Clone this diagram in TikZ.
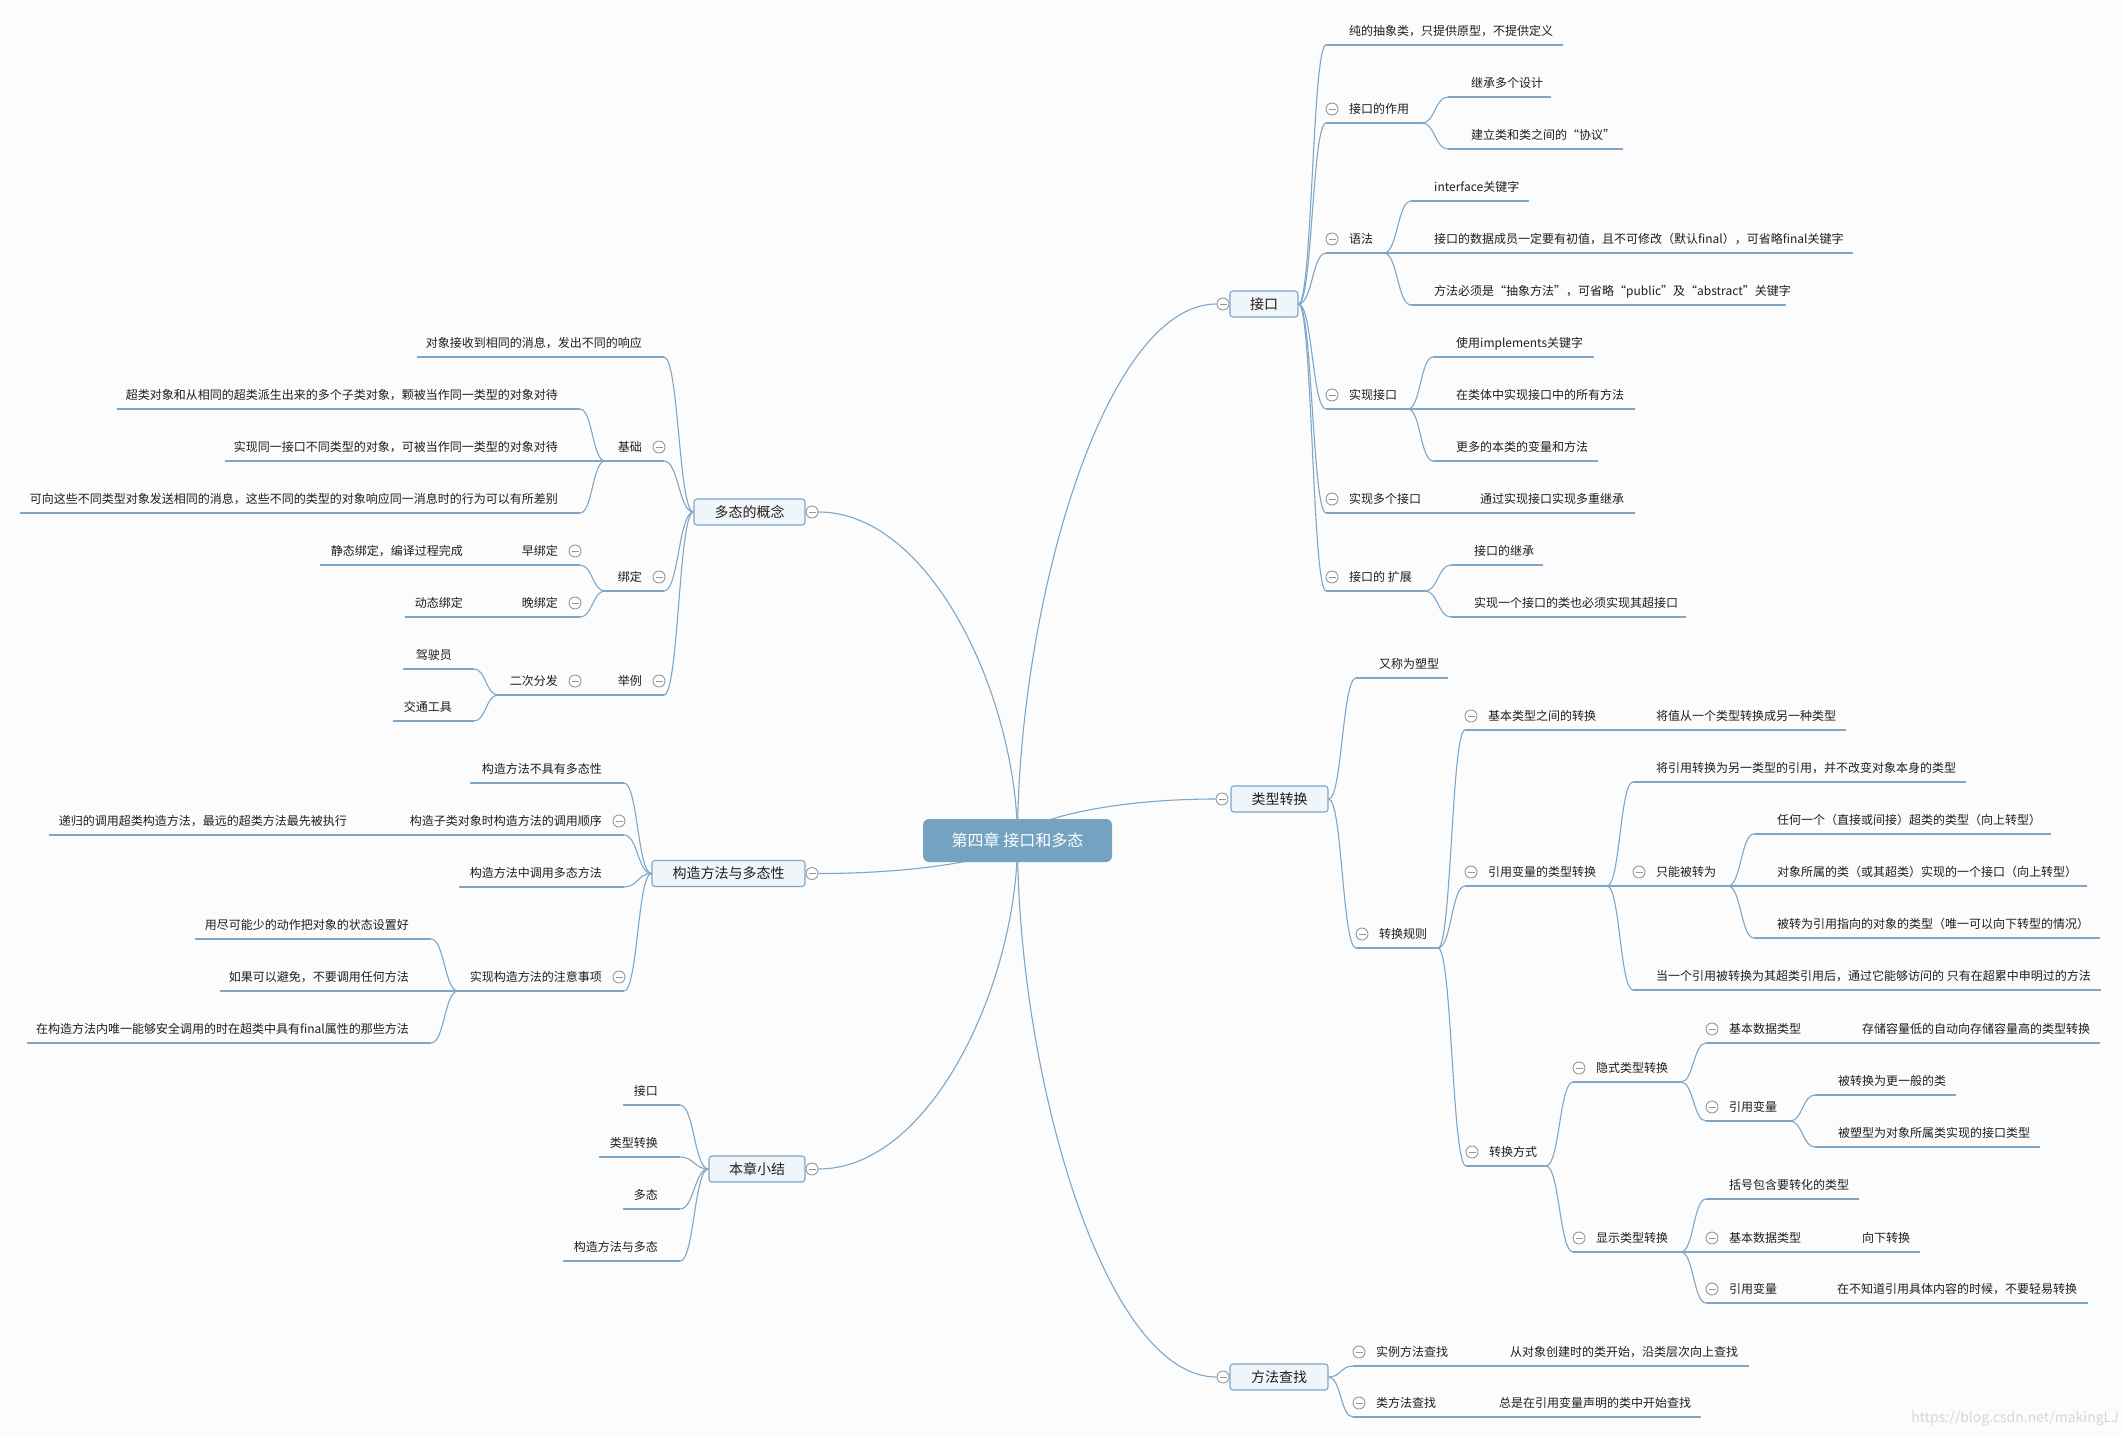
\documentclass[tikz,border=0pt]{standalone}
\usepackage{fontspec}
\setmainfont{Noto Sans CJK SC}
\usetikzlibrary{calc}
\pgfdeclarelayer{bg}
\pgfdeclarelayer{lines}
\pgfsetlayers{bg,lines,main}
\definecolor{lcol}{RGB}{126,166,200}
\definecolor{boxfill}{RGB}{239,245,249}
\definecolor{cfill}{RGB}{116,162,193}
\definecolor{ccol}{RGB}{150,150,150}
\definecolor{tcol}{RGB}{30,30,30}
\definecolor{bgcol}{RGB}{252,252,252}
\tikzset{
  ul/.style={draw=lcol,line width=1.1pt},
  txt/.style={inner sep=0pt,font=\fontsize{12}{14}\selectfont,text=tcol},
  cc/.style={circle,draw=ccol,fill=white,line width=0.9pt,minimum size=12pt,inner sep=0pt,
    path picture={\draw[ccol,line width=0.9pt] ([xshift=-3.5pt]path picture bounding box.center)--([xshift=3.5pt]path picture bounding box.center);}},
  mbox/.style={draw=lcol,fill=boxfill,rounded corners=3pt,line width=1.1pt,minimum height=26pt,inner sep=0pt,font=\fontsize{14}{16}\selectfont,text=tcol},
  cnode/.style={fill=cfill,rounded corners=6pt,minimum width=189pt,minimum height=43pt,inner sep=0pt,text=white,font=\fontsize{16}{18}\selectfont},
  scurve/.style={to path={.. controls ($(\tikztostart)!0.5!(\tikztostart-|\tikztotarget)$) and ($(\tikztotarget)!0.5!(\tikztotarget-|\tikztostart)$) .. (\tikztotarget)}},
  vcurve/.style={to path={.. controls ($(\tikztostart)!0.43!(\tikztostart|-\tikztotarget)$) and ($(\tikztotarget)!0.57!(\tikztostart|-\tikztotarget)$) .. (\tikztotarget)}}
}
\newcommand{\rtop}[5]{%
  \coordinate (#1s) at (#2,#4);
  \coordinate (#1e) at (#3,#4);
  \node[txt,anchor=base west] (#1) at (#2+23,#4-9.5) {#5};
  \begin{pgfonlayer}{lines}\draw[ul] (#1s) -- (#1e);\end{pgfonlayer}}
\newcommand{\rtopc}[5]{\rtop{#1}{#2}{#3}{#4}{#5}\node[cc] (#1c) at (#2+6,#4-14) {};}
\newcommand{\ltop}[5]{%
  \coordinate (#1s) at (#2,#4);
  \coordinate (#1e) at (#3,#4);
  \node[txt,anchor=base east] (#1) at (#3-22,#4-9.5) {#5};
  \begin{pgfonlayer}{lines}\draw[ul] (#1s) -- (#1e);\end{pgfonlayer}}
\newcommand{\ltopc}[5]{\ltop{#1}{#2}{#3}{#4}{#5}\node[cc] (#1c) at (#3-5,#4-14) {};}
\newcommand{\conn}[2]{\begin{pgfonlayer}{lines}\draw[ul] (#1) to[scurve] (#2);\end{pgfonlayer}}
\newcommand{\mconn}[2]{\begin{pgfonlayer}{lines}\draw[ul] (#1) to[vcurve] (#2);\end{pgfonlayer}}
\begin{document}
\begin{tikzpicture}[x=1pt,y=-1pt]
\begin{pgfonlayer}{bg}
\fill[bgcol] (0,0) rectangle (2122,1438);
\end{pgfonlayer}
\useasboundingbox (0,0) rectangle (2122,1438);

% central topic
\node[cnode] (c) at (1017.5,840.5) {第四章 接口和多态};

% main topics
\node[mbox,minimum width=68pt] (jk) at (1264,304) {接口};
\node[cc] (jkc) at (1223,304) {};
\node[mbox,minimum width=97pt] (lx) at (1279.5,799) {类型转换};
\node[cc] (lxc) at (1222,799) {};
\node[mbox,minimum width=98pt] (ff) at (1279,1377) {方法查找};
\node[cc] (ffc) at (1223,1377) {};
\node[mbox,minimum width=111pt] (dt) at (749.5,512) {多态的概念};
\node[cc] (dtc) at (812,512) {};
\node[mbox,minimum width=153pt] (gz) at (728.5,873.5) {构造方法与多态性};
\node[cc] (gzc) at (812,873.5) {};
\node[mbox,minimum width=96pt] (bz) at (757,1169) {本章小结};
\node[cc] (bzc) at (812,1169) {};

\mconn{c.center}{jkc.west}
\mconn{c.center}{lxc.west}
\mconn{c.center}{ffc.west}
\mconn{c.center}{dtc.east}
\mconn{c.center}{gzc.east}
\mconn{c.center}{bzc.east}

% ---------- 接口 ----------
\rtop{r1}{1326}{1563}{45}{纯的抽象类，只提供原型，不提供定义}
\rtopc{r2}{1326}{1422}{123}{接口的作用}
\rtop{r2a}{1448}{1551}{97}{继承多个设计}
\rtop{r2b}{1448}{1623}{149}{建立类和类之间的“协议”}
\rtopc{r3}{1326}{1384}{253}{语法}
\rtop{r3a}{1411}{1529}{201}{interface关键字}
\rtop{r3b}{1411}{1853}{253}{接口的数据成员一定要有初值，且不可修改（默认final），可省略final关键字}
\rtop{r3c}{1411}{1786}{305}{方法必须是“抽象方法”，可省略“public”及“abstract”关键字}
\rtopc{r4}{1326}{1408}{409}{实现接口}
\rtop{r4a}{1433}{1594}{357}{使用implements关键字}
\rtop{r4b}{1433}{1635}{409}{在类体中实现接口中的所有方法}
\rtop{r4c}{1433}{1598}{461}{更多的本类的变量和方法}
\rtopc{r5}{1326}{1457}{513}{实现多个接口}
\rtop{r5a}{1457}{1635}{513}{通过实现接口实现多重继承}
\rtopc{r6}{1326}{1425}{591}{接口的 扩展}
\rtop{r6a}{1451}{1543}{565}{接口的继承}
\rtop{r6b}{1451}{1686}{617}{实现一个接口的类也必须实现其超接口}
\conn{jk.east}{r1s}\conn{jk.east}{r2s}\conn{jk.east}{r3s}
\conn{jk.east}{r4s}\conn{jk.east}{r5s}\conn{jk.east}{r6s}
\conn{r2e}{r2as}\conn{r2e}{r2bs}
\conn{r3e}{r3as}\conn{r3e}{r3bs}\conn{r3e}{r3cs}
\conn{r4e}{r4as}\conn{r4e}{r4bs}\conn{r4e}{r4cs}
\conn{r5e}{r5as}
\conn{r6e}{r6as}\conn{r6e}{r6bs}

% ---------- 类型转换 ----------
\rtop{t1}{1356}{1448}{678}{又称为塑型}
\rtopc{t2}{1356}{1438}{948}{转换规则}
\rtopc{t21}{1465}{1633}{730}{基本类型之间的转换}
\rtop{t211}{1633}{1846}{730}{将值从一个类型转换成另一种类型}
\rtopc{t22}{1465}{1607}{886}{引用变量的类型转换}
\rtop{t221}{1633}{1966}{782}{将引用转换为另一类型的引用，并不改变对象本身的类型}
\rtopc{t222}{1633}{1728}{886}{只能被转为}
\rtop{t2221}{1754}{2051}{834}{任何一个（直接或间接）超类的类型（向上转型）}
\rtop{t2222}{1754}{2087}{886}{对象所属的类（或其超类）实现的一个接口（向上转型）}
\rtop{t2223}{1754}{2100}{938}{被转为引用指向的对象的类型（唯一可以向下转型的情况）}
\rtop{t223}{1633}{2101}{990}{当一个引用被转换为其超类引用后，通过它能够访问的 只有在超累中申明过的方法}
\rtopc{t23}{1466}{1546}{1166}{转换方式}
\rtopc{t231}{1573}{1681}{1082}{隐式类型转换}
\rtopc{t2311}{1706}{1839}{1043}{基本数据类型}
\rtop{t23111}{1839}{2100}{1043}{存储容量低的自动向存储容量高的类型转换}
\rtopc{t2312}{1706}{1790}{1121}{引用变量}
\rtop{t23121}{1815}{1956}{1095}{被转换为更一般的类}
\rtop{t23122}{1815}{2040}{1147}{被塑型为对象所属类实现的接口类型}
\rtopc{t232}{1573}{1681}{1252}{显示类型转换}
\rtop{t2321}{1706}{1859}{1199}{括号包含要转化的类型}
\rtopc{t2322}{1706}{1839}{1252}{基本数据类型}
\rtop{t23221}{1839}{1920}{1252}{向下转换}
\rtopc{t2323}{1706}{1814}{1303}{引用变量}
\rtop{t23231}{1814}{2088}{1303}{在不知道引用具体内容的时候，不要轻易转换}
\conn{lx.east}{t1s}\conn{lx.east}{t2s}
\conn{t2e}{t21s}\conn{t2e}{t22s}\conn{t2e}{t23s}
\conn{t21e}{t211s}
\conn{t22e}{t221s}\conn{t22e}{t222s}\conn{t22e}{t223s}
\conn{t222e}{t2221s}\conn{t222e}{t2222s}\conn{t222e}{t2223s}
\conn{t23e}{t231s}\conn{t23e}{t232s}
\conn{t231e}{t2311s}\conn{t231e}{t2312s}
\conn{t2311e}{t23111s}
\conn{t2312e}{t23121s}\conn{t2312e}{t23122s}
\conn{t232e}{t2321s}\conn{t232e}{t2322s}\conn{t232e}{t2323s}
\conn{t2322e}{t23221s}
\conn{t2323e}{t23231s}

% ---------- 方法查找 ----------
\rtopc{f1}{1353}{1487}{1366}{实例方法查找}
\rtop{f11}{1487}{1749}{1366}{从对象创建时的类开始，沿类层次向上查找}
\rtopc{f2}{1353}{1476}{1417}{类方法查找}
\rtop{f21}{1476}{1701}{1417}{总是在引用变量声明的类中开始查找}
\conn{ff.east}{f1s}\conn{ff.east}{f2s}
\conn{f1e}{f11s}\conn{f2e}{f21s}

% ---------- 多态的概念 ----------
\ltop{l1}{417}{664}{357}{对象接收到相同的消息，发出不同的响应}
\ltopc{l2}{605}{664}{461}{基础}
\ltop{l21}{117}{580}{409}{超类对象和从相同的超类派生出来的多个子类对象，颗被当作同一类型的对象对待}
\ltop{l22}{225}{580}{461}{实现同一接口不同类型的对象，可被当作同一类型的对象对待}
\ltop{l23}{20}{580}{513}{可向这些不同类型对象发送相同的消息，这些不同的类型的对象响应同一消息时的行为可以有所差别}
\ltopc{l3}{605}{664}{591}{绑定}
\ltopc{l31}{485}{580}{565}{早绑定}
\ltop{l311}{320}{485}{565}{静态绑定，编译过程完成}
\ltopc{l32}{485}{580}{617}{晚绑定}
\ltop{l321}{405}{485}{617}{动态绑定}
\ltopc{l4}{605}{664}{695}{举例}
\ltopc{l41}{498}{580}{695}{二次分发}
\ltop{l411}{403}{474}{669}{驾驶员}
\ltop{l412}{393}{474}{721}{交通工具}
\conn{dt.west}{l1e}\conn{dt.west}{l2e}\conn{dt.west}{l3e}\conn{dt.west}{l4e}
\conn{l2s}{l21e}\conn{l2s}{l22e}\conn{l2s}{l23e}
\conn{l3s}{l31e}\conn{l3s}{l32e}
\conn{l31s}{l311e}\conn{l32s}{l321e}
\conn{l4s}{l41e}
\conn{l41s}{l411e}\conn{l41s}{l412e}

% ---------- 构造方法与多态性 ----------
\ltop{g1}{470}{624}{783}{构造方法不具有多态性}
\ltopc{g2}{369}{624}{835}{构造子类对象时构造方法的调用顺序}
\ltop{g21}{49}{369}{835}{递归的调用超类构造方法，最远的超类方法最先被执行}
\ltop{g3}{459}{624}{887}{构造方法中调用多态方法}
\ltopc{g4}{458}{624}{991}{实现构造方法的注意事项}
\ltop{g41}{195}{431}{939}{用尽可能少的动作把对象的状态设置好}
\ltop{g42}{220}{431}{991}{如果可以避免，不要调用任何方法}
\ltop{g43}{27}{431}{1043}{在构造方法内唯一能够安全调用的时在超类中具有final属性的那些方法}
\conn{gz.west}{g1e}\conn{gz.west}{g2e}\conn{gz.west}{g3e}\conn{gz.west}{g4e}
\conn{g2s}{g21e}
\conn{g4s}{g41e}\conn{g4s}{g42e}\conn{g4s}{g43e}

% ---------- 本章小结 ----------
\ltop{s1}{623}{680}{1105}{接口}
\ltop{s2}{599}{680}{1157}{类型转换}
\ltop{s3}{623}{680}{1209}{多态}
\ltop{s4}{563}{680}{1261}{构造方法与多态}
\conn{bz.west}{s1e}\conn{bz.west}{s2e}\conn{bz.west}{s3e}\conn{bz.west}{s4e}

% watermark
\node[anchor=east,inner sep=0pt,text=black!16,font=\fontsize{14}{16}\selectfont] (wm) at (2119,1419) {https://blog.csdn.net/makingLJ};
\end{tikzpicture}
\end{document}
